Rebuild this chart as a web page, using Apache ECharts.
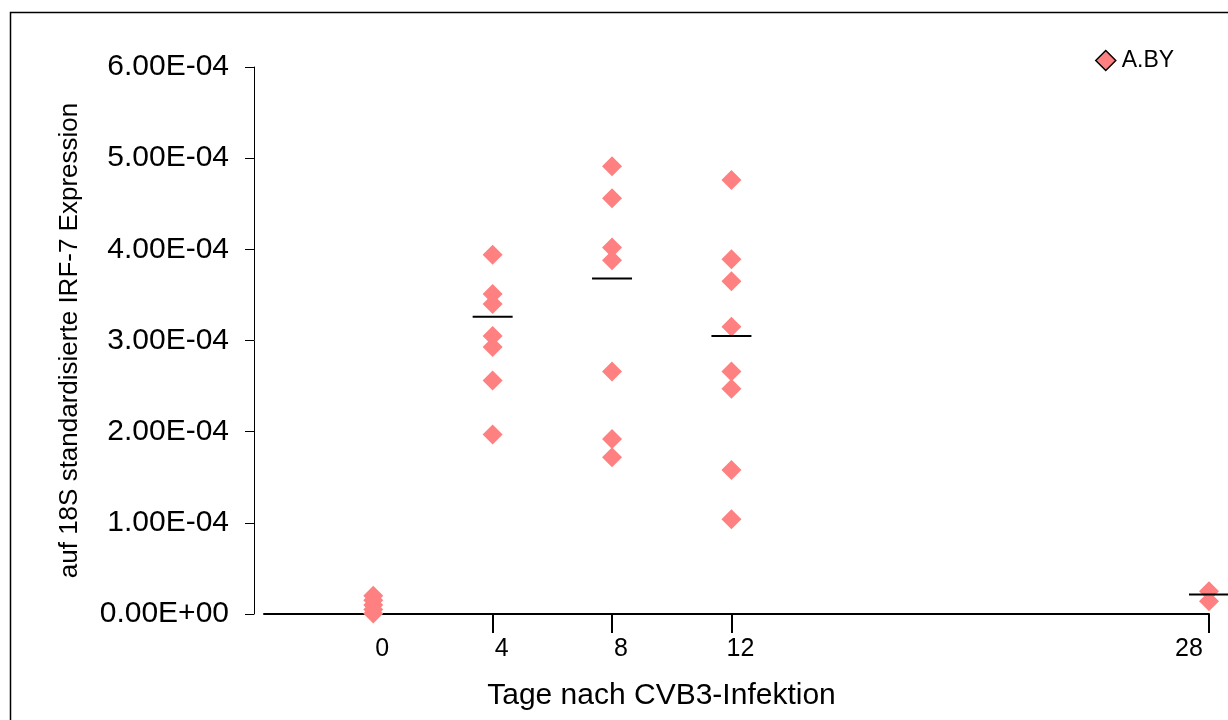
<!DOCTYPE html>
<html>
<head>
<meta charset="utf-8">
<script src="https://cdn.jsdelivr.net/npm/echarts@6/dist/echarts.min.js"></script>
<style>
  html, body { margin: 0; padding: 0; background: #fff; }
  #chart { width: 1228px; height: 720px; }
</style>
</head>
<body>
<div id="chart"></div>
<script>
// days after infection, shown on the x axis
const days = [0, 4, 8, 12, 28]
const tickDays = [4, 8, 12, 28]

// IRF-7 expression normalised to 18S, one list per day
const day0 = [2.0e-5, 1.5e-5, 1.0e-5, 0.5e-5, 0.05e-5]
const day4 = [3.94e-4, 3.51e-4, 3.40e-4, 3.05e-4, 2.93e-4, 2.56e-4, 1.97e-4]
const day8 = [4.91e-4, 4.56e-4, 4.02e-4, 3.88e-4, 2.66e-4, 1.92e-4, 1.72e-4]
const day12 = [4.76e-4, 3.89e-4, 3.65e-4, 3.15e-4, 2.66e-4, 2.47e-4, 1.58e-4, 1.04e-4]
const day28 = [2.5e-5, 1.4e-5]

// mean markers (no visible mark on day 0)
const meanDays = [4, 8, 12, 28]
const means = [3.26e-4, 3.68e-4, 3.05e-4, 2.15e-5]

const yTicks = [0, 1e-4, 2e-4, 3e-4, 4e-4, 5e-4, 6e-4]

const groups = [day0, day4, day8, day12, day28]
const points = []
groups.forEach((vals, i) => {
  vals.forEach(v => points.push([days[i], v]))
})
const meanPoints = meanDays.map((d, i) => [d, means[i]])

const font = 'Liberation Sans, Arial, Helvetica, sans-serif'

function sci(v) {
  // 6e-4 -> 6.00E-04
  const s = Number(v).toExponential(2).toUpperCase()
  const m = s.match(/^(.*)E([+-])(\d+)$/)
  return m[1] + 'E' + m[2] + m[3].padStart(2, '0')
}

const chart = echarts.init(document.getElementById('chart'))
chart.setOption({
  animation: false,
  backgroundColor: '#fff',
  textStyle: { fontFamily: font },
  graphic: [{
    type: 'rect',
    shape: { x: 10.5, y: 12.5, width: 1300, height: 800 },
    style: { fill: 'none', stroke: '#000', lineWidth: 1.5 },
    silent: true
  }],
  grid: {
    left: 264,
    right: 19,
    top: 67,
    bottom: 106
  },
  legend: {
    data: ['A.BY'],
    left: 1090,
    top: 44,
    itemWidth: 20,
    itemHeight: 20,
    icon: 'diamond',
    itemStyle: { borderColor: '#000', borderWidth: 1.5 },
    textStyle: { fontSize: 23, color: '#000', fontFamily: font, padding: [0, 0, 0, 1] }
  },
  xAxis: {
    type: 'value',
    min: -3.66,
    max: 28,
    name: 'Tage nach CVB3-Infektion',
    nameLocation: 'middle',
    nameGap: 67,
    nameTextStyle: { fontSize: 30, color: '#000', fontFamily: font, padding: [0, 150, 0, 0] },
    splitLine: { show: false },
    axisLine: { show: true, onZero: false, lineStyle: { color: '#000', width: 2 } },
    axisTick: {
      show: true,
      customValues: tickDays,
      length: 19,
      lineStyle: { color: '#000', width: 2 }
    },
    axisLabel: {
      customValues: days,
      margin: 23,
      fontSize: 25,
      color: '#000',
      fontFamily: font,
      formatter: v => (v === 28 ? '{l|' + v + '}' : '{r|' + v + '}'),
      rich: {
        r: { fontSize: 25, color: '#000', fontFamily: font, padding: [0, 0, 0, 18] },
        l: { fontSize: 25, color: '#000', fontFamily: font, padding: [0, 40, 0, 0] }
      }
    }
  },
  yAxis: {
    type: 'value',
    min: 0,
    max: 6e-4,
    interval: 1e-4,
    offset: 10,
    name: 'auf 18S standardisierte IRF-7 Expression',
    nameLocation: 'middle',
    nameRotate: 90,
    nameGap: 171,
    nameTextStyle: { fontSize: 26, color: '#000', fontFamily: font },
    splitLine: { show: false },
    axisLine: { show: true, onZero: false, lineStyle: { color: '#000', width: 1 } },
    axisTick: { show: true, length: 9, lineStyle: { color: '#000', width: 1 } },
    axisLabel: {
      customValues: yTicks,
      margin: 25,
      fontSize: 30,
      color: '#000',
      fontFamily: font,
      formatter: v => sci(v)
    }
  },
  series: [
    {
      name: 'A.BY',
      type: 'scatter',
      symbol: 'diamond',
      symbolSize: 20,
      clip: false,
      itemStyle: { color: '#ff8080', opacity: 1 },
      data: points,
      z: 2
    },
    {
      name: 'Mittelwert',
      type: 'scatter',
      symbol: 'rect',
      symbolSize: [40, 2],
      clip: false,
      itemStyle: { color: '#000', opacity: 1 },
      data: meanPoints,
      z: 3
    }
  ]
})
</script>
</body>
</html>
